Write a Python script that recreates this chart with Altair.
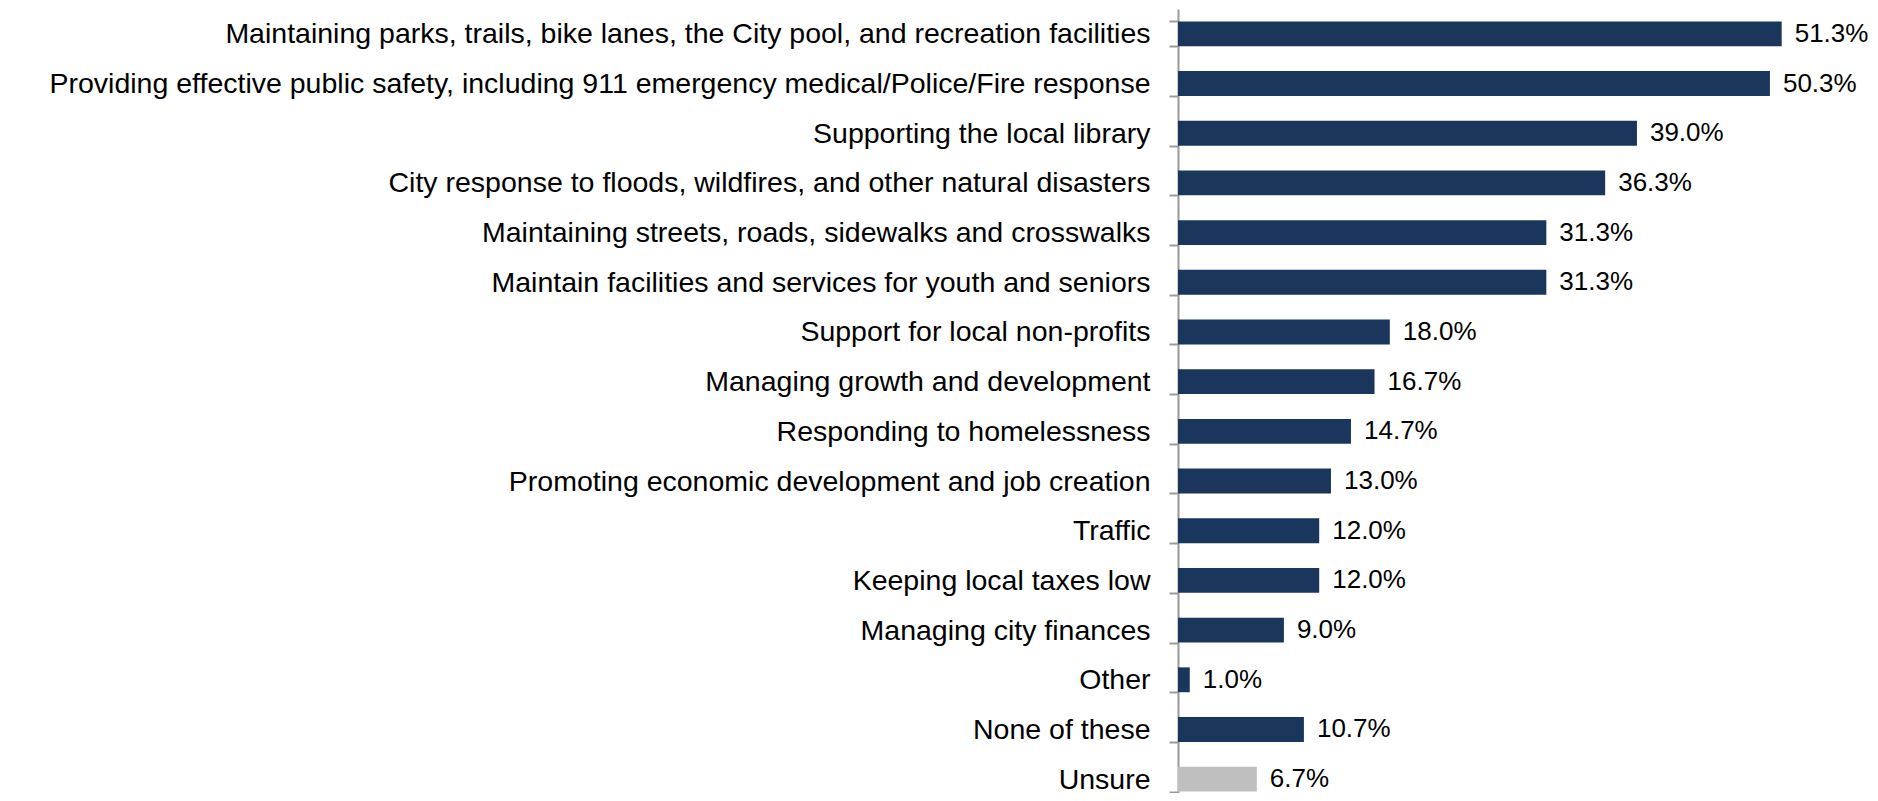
import altair as alt
import pandas as pd

categories = [
    "Maintaining parks, trails, bike lanes, the City pool, and recreation facilities",
    "Providing effective public safety, including 911 emergency medical/Police/Fire response",
    "Supporting the local library",
    "City response to floods, wildfires, and other natural disasters",
    "Maintaining streets, roads, sidewalks and crosswalks",
    "Maintain facilities and services for youth and seniors",
    "Support for local non-profits",
    "Managing growth and development",
    "Responding to homelessness",
    "Promoting economic development and job creation",
    "Traffic",
    "Keeping local taxes low",
    "Managing city finances",
    "Other",
    "None of these",
    "Unsure",
]
values = [51.3, 50.3, 39.0, 36.3, 31.3, 31.3, 18.0, 16.7, 14.7, 13.0, 12.0, 12.0, 9.0, 1.0, 10.7, 6.7]
groups = ["main"] * 15 + ["unsure"]

df = pd.DataFrame({"category": categories, "value": values, "group": groups})
df["label"] = df["value"].map(lambda v: f"{v:.1f}%")

FONT = "Liberation Sans"

y_scale = alt.Scale(paddingInner=0.5, paddingOuter=0.25)
y_axis = alt.Axis(
    labelFont=FONT,
    labelFontSize=28.5,
    labelColor="#000000",
    labelLimit=2000,
    labelPadding=19,
    tickSize=9,
    tickColor="#9a9a9a",
    tickWidth=2,
    domainColor="#9a9a9a",
    domainWidth=2,
    tickBand="extent",
    title=None,
)

x_scale = alt.Scale(domain=[0, 56], nice=False)

bars = alt.Chart(df).mark_bar().encode(
    y=alt.Y("category:N", sort=categories, title=None, scale=y_scale, axis=y_axis),
    x=alt.X("value:Q", scale=x_scale, axis=None, title=None),
    color=alt.Color(
        "group:N",
        scale=alt.Scale(domain=["main", "unsure"], range=["#1b365d", "#bfbfbf"]),
        legend=None,
    ),
)

text = alt.Chart(df).mark_text(
    align="left", baseline="middle", dx=13, font=FONT, fontSize=26, color="#000000"
).encode(
    y=alt.Y("category:N", sort=categories, title=None, scale=y_scale, axis=y_axis),
    x=alt.X("value:Q", scale=x_scale, axis=None, title=None),
    text="label:N",
)

chart = (
    alt.layer(bars, text)
    .properties(
        width=659,
        height=795,
        autosize=alt.AutoSizeParams(type="none"),
        padding={"left": 1170, "top": 1, "right": 33, "bottom": -11},
    )
    .configure_view(stroke=None)
)

chart.save("out.html", embed_options={"renderer": "svg", "actions": False})
